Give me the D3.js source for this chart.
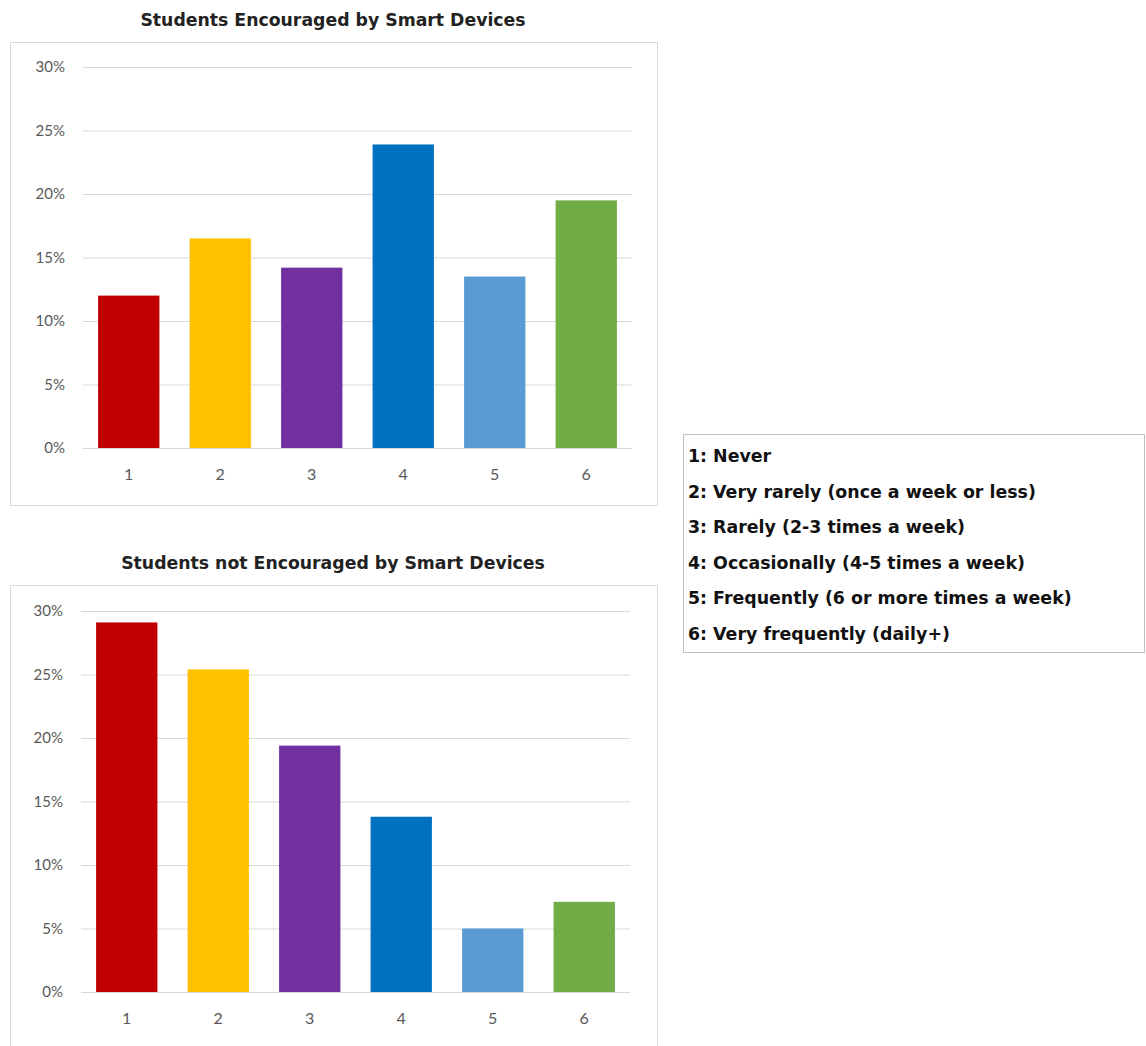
<!DOCTYPE html>
<html lang="en">
<head>
    <meta charset="UTF-8">
    <title>Smart Devices</title>
    <script src="https://cdnjs.cloudflare.com/ajax/libs/d3/7.8.5/d3.min.js"></script>
    <style>
        body { margin: 0; background: #fff; }
        svg text { font-family: Lato, "Open Sans", sans-serif; }
        svg text.bold { font-family: "DejaVu Sans", sans-serif; font-weight: bold; }
    </style>
</head>
<body>
<div id="chart"></div>
<script>
    // data
    var categories = ["1", "2", "3", "4", "5", "6"];
    var encouraged = [12.0, 16.5, 14.2, 23.9, 13.5, 19.5];
    var notEncouraged = [29.1, 25.4, 19.4, 13.8, 5.0, 7.1];
    var yTicks = [0, 5, 10, 15, 20, 25, 30];
    var colors = ["#C00000", "#FFC000", "#7030A0", "#0070C0", "#5B9BD5", "#70AD47"];
    var legendLabels = [
        "1: Never",
        "2: Very rarely (once a week or less)",
        "3: Rarely (2-3 times a week)",
        "4: Occasionally (4-5 times a week)",
        "5: Frequently (6 or more times a week)",
        "6: Very frequently (daily+)"
    ];

    var W = 1146, H = 1046;
    var svg = d3.select("#chart").append("svg")
        .attr("width", W)
        .attr("height", H);

    function drawPanel(title, values, top, boxH, gx0, gx1, gy0, gy1) {
        var g = svg.append("g");

        g.append("text")
            .attr("class", "bold")
            .attr("x", 333)
            .attr("y", top - 16)
            .attr("text-anchor", "middle")
            .attr("font-size", "17.3px")
            .attr("fill", "#222")
            .text(title);

        g.append("rect")
            .attr("x", 10.5).attr("y", top + 0.5)
            .attr("width", 647).attr("height", boxH)
            .attr("fill", "none")
            .attr("stroke", "#D9D9D9");

        var x = d3.scaleBand().domain(categories).range([gx0, gx1]).paddingInner(0.33).paddingOuter(0.165);
        var y = d3.scaleLinear().domain([0, 30]).range([gy0, gy1]);

        // gridlines
        var yAxis = d3.axisLeft(y)
            .tickValues(yTicks)
            .tickSize(-(gx1 - gx0))
            .tickPadding(18)
            .tickFormat(function(d) { return d + "%"; });
        var ya = g.append("g").attr("transform", "translate(" + gx0 + ",0)").call(yAxis);
        ya.select(".domain").remove();
        ya.selectAll("line").attr("stroke", "#D9D9D9").attr("stroke-width", 1.2);
        ya.selectAll("text").attr("fill", "#595959").attr("font-size", "15px");

        g.selectAll(".bar").data(values).enter().append("rect")
            .attr("class", "bar")
            .attr("x", function(d, i) { return x(categories[i]); })
            .attr("y", function(d) { return y(d); })
            .attr("width", x.bandwidth())
            .attr("height", function(d) { return y(0) - y(d); })
            .attr("fill", function(d, i) { return colors[i]; });

        var xAxis = d3.axisBottom(x).tickSize(0).tickPadding(21);
        var xa = g.append("g").attr("transform", "translate(0," + gy0 + ")").call(xAxis);
        xa.select(".domain").remove();
        xa.selectAll("text").attr("fill", "#595959").attr("font-size", "16px");
    }

    drawPanel("Students Encouraged by Smart Devices", encouraged, 42, 463, 83, 632, 448, 67);
    drawPanel("Students not Encouraged by Smart Devices", notEncouraged, 585, 470, 81, 630, 992, 611);

    // legend box
    var lg = svg.append("g");
    lg.append("rect")
        .attr("x", 683.5).attr("y", 434.5)
        .attr("width", 461).attr("height", 218)
        .attr("fill", "none")
        .attr("stroke", "#BFBFBF");
    lg.selectAll("text").data(legendLabels).enter().append("text")
        .attr("class", "bold")
        .attr("x", 688)
        .attr("y", function(d, i) { return 462 + i * 35.6; })
        .attr("font-size", "17.4px")
        .attr("fill", "#111")
        .text(function(d) { return d; });
</script>
</body>
</html>
